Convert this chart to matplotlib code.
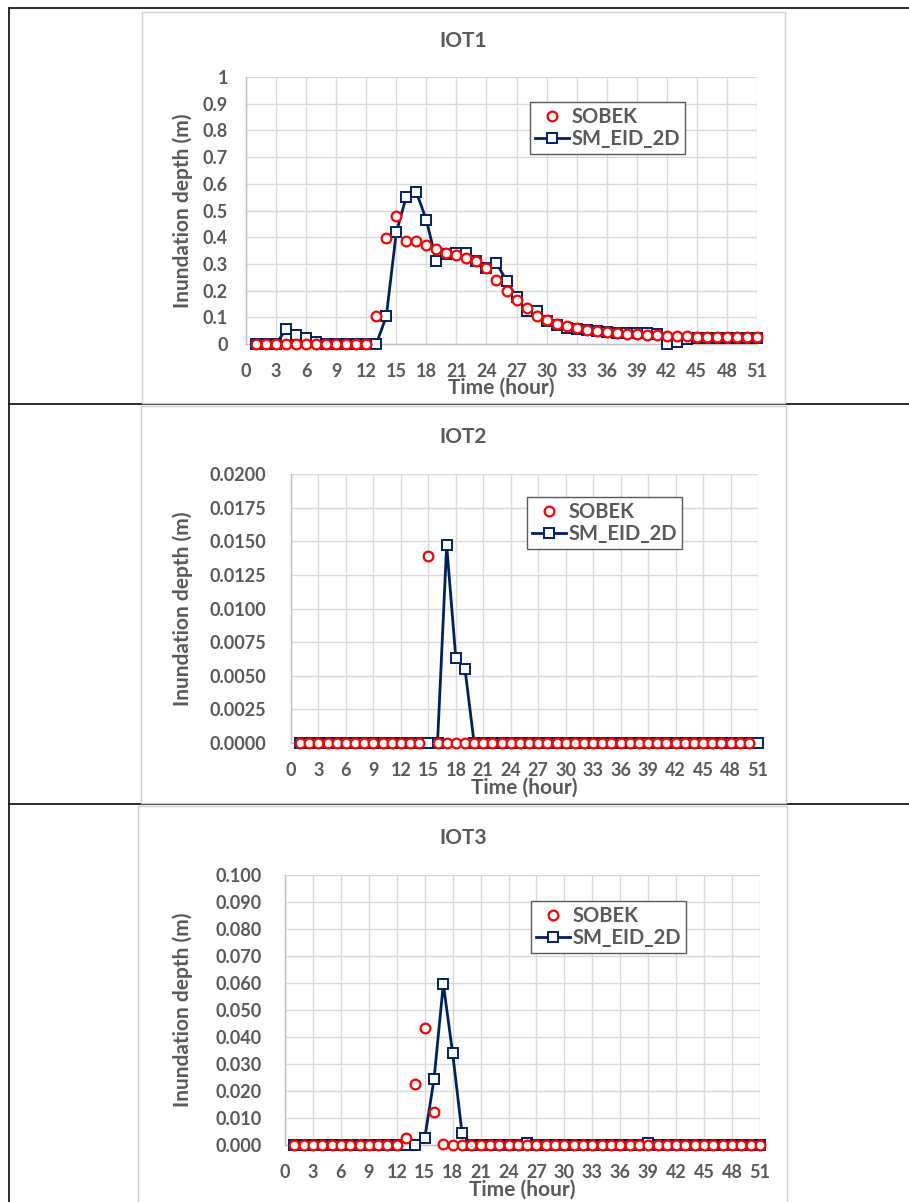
import matplotlib
matplotlib.use("Agg")
import matplotlib.pyplot as plt
from matplotlib.patches import Rectangle
from matplotlib.lines import Line2D

# ---------------- data ----------------
hours = list(range(1, 52))
hours_iot2_sobek = list(range(1, 51))
x_ticks = list(range(0, 52, 3))

iot1_sobek = [0, 0, 0, 0, 0, 0, 0, 0, 0, 0, 0, 0,
              0.103, 0.398, 0.479, 0.384, 0.384, 0.371, 0.355, 0.342, 0.334, 0.321,
              0.309, 0.284, 0.240, 0.200, 0.163, 0.134, 0.106, 0.091, 0.076, 0.068,
              0.060, 0.054, 0.047, 0.044, 0.041, 0.037, 0.037, 0.035, 0.034, 0.031,
              0.031, 0.029, 0.028, 0.027, 0.027, 0.026, 0.026, 0.025, 0.025]
iot1_sm = [0, 0, 0, 0.056, 0.035, 0.022, 0.006, 0, 0, 0, 0, 0, 0,
           0.103, 0.418, 0.552, 0.569, 0.465, 0.309, 0.338, 0.340, 0.340, 0.309,
           0.284, 0.303, 0.237, 0.176, 0.125, 0.122, 0.085, 0.072, 0.060, 0.056,
           0.051, 0.047, 0.044, 0.043, 0.042, 0.041, 0.040, 0.039, 0.000, 0.006,
           0.019, 0.022, 0.022, 0.022, 0.022, 0.022, 0.022, 0.022]

iot2_sobek = [0, 0, 0, 0, 0, 0, 0, 0, 0, 0, 0, 0, 0, 0, 0.0139,
              0, 0, 0, 0, 0, 0, 0, 0, 0, 0, 0, 0, 0, 0, 0,
              0, 0, 0, 0, 0, 0, 0, 0, 0, 0, 0, 0, 0, 0, 0,
              0, 0, 0, 0, 0]
iot2_sm = [0, 0, 0, 0, 0, 0, 0, 0, 0, 0, 0, 0, 0, 0, 0,
           0, 0.0147, 0.0063, 0.0055, 0, 0, 0, 0, 0, 0, 0, 0, 0, 0, 0,
           0, 0, 0, 0, 0, 0, 0, 0, 0, 0, 0, 0, 0, 0, 0,
           0, 0, 0, 0, 0, 0]

iot3_sobek = [0, 0, 0, 0, 0, 0, 0, 0, 0, 0, 0, 0, 0.0025, 0.0226, 0.0435,
              0.0123, 0.0002, 0, 0, 0, 0, 0, 0, 0, 0, 0, 0, 0, 0, 0,
              0, 0, 0, 0, 0, 0, 0, 0, 0, 0, 0, 0, 0, 0, 0,
              0, 0, 0, 0, 0, 0]
iot3_sm = [0, 0, 0, 0, 0, 0, 0, 0, 0, 0, 0, 0, 0, 0, 0.0025,
           0.0244, 0.0596, 0.0340, 0.0046, 0, 0, 0, 0, 0, 0, 0.0008, 0, 0, 0, 0,
           0, 0, 0, 0, 0, 0, 0, 0, 0.0008, 0, 0, 0, 0, 0, 0,
           0, 0, 0, 0, 0, 0]

iot1_yticks = [0, 0.1, 0.2, 0.3, 0.4, 0.5, 0.6, 0.7, 0.8, 0.9, 1.0]
iot1_ylabels = ["0", "0.1", "0.2", "0.3", "0.4", "0.5", "0.6", "0.7", "0.8", "0.9", "1"]
iot2_yticks = [0, 0.0025, 0.005, 0.0075, 0.01, 0.0125, 0.015, 0.0175, 0.02]
iot2_ylabels = ["0.0000", "0.0025", "0.0050", "0.0075", "0.0100", "0.0125",
                "0.0150", "0.0175", "0.0200"]
iot3_yticks = [0, 0.01, 0.02, 0.03, 0.04, 0.05, 0.06, 0.07, 0.08, 0.09, 0.10]
iot3_ylabels = ["0.000", "0.010", "0.020", "0.030", "0.040", "0.050", "0.060",
                "0.070", "0.080", "0.090", "0.100"]

titles = ["IOT1", "IOT2", "IOT3"]
series_names = ["SOBEK", "SM_EID_2D"]

# ---------------- style ----------------
plt.rcParams['font.family'] = ['Lato', 'DejaVu Sans']
TXT = "#595959"
GRID = "#d9d9d9"
RED = "#ff0000"
NAVY = "#002060"

W, H = 909, 1202
fig = plt.figure(figsize=(W / 100, H / 100), dpi=100)


def fx(x):
    return x / W


def fy(y):
    return 1 - y / H


# table lines (black)
for (x0, y0, x1, y1) in [(9, 8, W, 8), (9, 404, W, 404), (9, 804, W, 804),
                         (9, 8, 9, H)]:
    fig.add_artist(Line2D([fx(x0), fx(x1)], [fy(y0), fy(y1)], color="#1a1a1a",
                          lw=1.3, transform=fig.transFigure, zorder=0))

# chart boxes
for (l, t, r, b) in [(142, 12, 785, 403), (141, 406, 786, 803), (138, 806, 787, 1210)]:
    fig.add_artist(Rectangle((fx(l), fy(b)), fx(r - l), (b - t) / H, facecolor="white",
                             edgecolor="#d0d0d0", lw=1.0, transform=fig.transFigure,
                             zorder=1))

panels = [
    dict(plot=(246, 77, 757, 344), title_y=41, xl_y=388, yl_x=183,
         sob_x=hours, sob=iot1_sobek, sm=iot1_sm, ymax=1.0,
         yt=iot1_yticks, ytl=iot1_ylabels, ypad=13,
         leg=(530, 102, 680, 147)),
    dict(plot=(291, 474, 758, 743), title_y=437, xl_y=788, yl_x=183,
         sob_x=hours_iot2_sobek, sob=iot2_sobek, sm=iot2_sm, ymax=0.02,
         yt=iot2_yticks, ytl=iot2_ylabels, ypad=18,
         leg=(527, 497, 686, 543)),
    dict(plot=(285, 875, 760, 1145), title_y=838, xl_y=1190, yl_x=183,
         sob_x=hours, sob=iot3_sobek, sm=iot3_sm, ymax=0.10,
         yt=iot3_yticks, ytl=iot3_ylabels, ypad=17,
         leg=(531, 901, 683, 947)),
]

for i, p in enumerate(panels):
    l, t, r, b = p["plot"]
    ax = fig.add_axes([fx(l), fy(b), fx(r - l), (b - t) / H], zorder=2)
    ax.set_facecolor("none")
    ax.set_xlim(0, 51)
    ax.set_ylim(0, p["ymax"])
    ax.set_xticks(x_ticks)
    ax.set_xticklabels([str(v) for v in x_ticks])
    ax.set_yticks(p["yt"])
    ax.set_yticklabels(p["ytl"])
    ax.grid(True, color=GRID, lw=1.0, zorder=0)
    ax.set_axisbelow(True)
    for s in ["top", "right"]:
        ax.spines[s].set_visible(False)
    for s in ["left", "bottom"]:
        ax.spines[s].set_color("#bfbfbf")
        ax.spines[s].set_linewidth(1.0)
    ax.tick_params(axis="both", length=0, colors=TXT, labelsize=13)
    ax.tick_params(axis="x", pad=14)
    ax.tick_params(axis="y", pad=p["ypad"])
    for lab in ax.get_xticklabels() + ax.get_yticklabels():
        lab.set_fontweight("bold")

    h_sm, = ax.plot(hours, p["sm"], color=NAVY, lw=2.0, marker="s", ms=6.8,
                    mfc="white", mec=NAVY, mew=1.4, clip_on=False, zorder=3)
    h_sob, = ax.plot(p["sob_x"], p["sob"], ls="none", marker="o", ms=7,
                     mfc="white", mec=RED, mew=1.6, clip_on=False, zorder=4)

    # legend
    ll, lt, lr, lb = p["leg"]
    leg = ax.legend([h_sob, h_sm], series_names, loc="upper left",
                    bbox_to_anchor=((ll - l) / (r - l), (b - lt) / (b - t)),
                    frameon=True, fancybox=False, edgecolor="#595959",
                    framealpha=1, handlelength=1.7,
                    handletextpad=0.1, borderpad=0.25, labelspacing=0.1,
                    borderaxespad=0, prop=dict(weight="bold", size=14.5))
    leg.get_frame().set_linewidth(1.0)
    for txt in leg.get_texts():
        txt.set_color(TXT)

    cx = (l + r) / 2
    fig.text(fx(463), fy(p["title_y"]), titles[i], ha="center", va="center",
             fontsize=15, fontweight="bold", color=TXT)
    fig.text(fx(cx), fy(p["xl_y"]), "Time (hour)", ha="center", va="center",
             fontsize=15, fontweight="bold", color=TXT)
    fig.text(fx(p["yl_x"]), fy((t + b) / 2), "Inundation depth (m)", ha="center",
             va="center", rotation=90, fontsize=15, fontweight="bold", color=TXT)

fig.savefig("out.png", dpi=100, facecolor="white")
